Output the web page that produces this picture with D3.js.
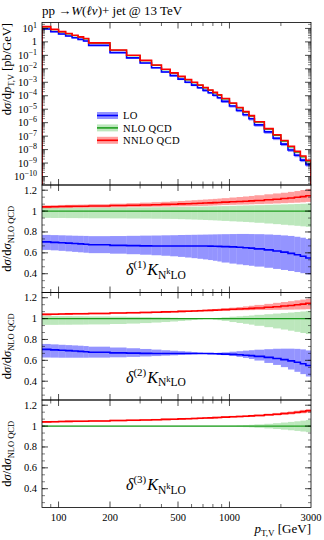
<!DOCTYPE html>
<html>
<head>
<meta charset="utf-8">
<script src="https://cdn.jsdelivr.net/npm/d3@7"></script>
<style>
body { margin: 0; background: #fff; }
text { font-family: "Liberation Serif", "DejaVu Serif", serif; fill: #000; }
</style>
</head>
<body>
<svg id="chart" width="324" height="540"></svg>
<script>
// bin edges in GeV
const edges = [80,90,100,110,120,130,140,150,200,250,300,350,400,450,500,550,600,650,700,750,800,850,900,1000,1100,1200,1300,1400,1600,1800,2000,2200,2400,2600,2800,3000];

// NLO QCD dsigma/dpT [pb/GeV]
const nloXsec = [13.0,8.17,5.51,3.99,2.95,2.24,1.70,0.811,0.239,0.0968,0.0403,0.01795,8.77e-3,4.70e-3,2.58e-3,1.51e-3,9.31e-4,5.87e-4,3.78e-4,2.49e-4,1.64e-4,1.08e-4,5.81e-5,2.65e-5,1.24e-5,6.04e-6,3.02e-6,1.07e-6,3.27e-7,1.13e-7,4.18e-8,1.58e-8,6.55e-9,2.90e-9,1.38e-9];

// ratios to NLO QCD (central)
const loRatio = [0.705,0.700,0.697,0.693,0.689,0.686,0.683,0.677,0.672,0.669,0.667,0.666,0.665,0.665,0.665,0.665,0.665,0.665,0.665,0.664,0.663,0.662,0.660,0.657,0.653,0.649,0.645,0.638,0.628,0.618,0.607,0.595,0.582,0.567,0.550];
const nnloRatio = [1.040,1.042,1.044,1.045,1.046,1.046,1.047,1.049,1.053,1.056,1.059,1.061,1.064,1.066,1.069,1.071,1.073,1.075,1.077,1.079,1.081,1.083,1.086,1.089,1.092,1.095,1.098,1.102,1.108,1.114,1.120,1.126,1.132,1.139,1.147];

// delta(1) bands
const loUp1 = [0.772,0.770,0.768,0.766,0.764,0.763,0.762,0.760,0.761,0.763,0.765,0.766,0.768,0.769,0.771,0.772,0.773,0.774,0.775,0.776,0.777,0.778,0.779,0.780,0.781,0.781,0.780,0.779,0.776,0.772,0.767,0.762,0.754,0.745,0.733];
const loDn1 = [0.628,0.624,0.619,0.614,0.609,0.605,0.601,0.597,0.592,0.587,0.582,0.577,0.572,0.567,0.561,0.555,0.549,0.543,0.537,0.531,0.524,0.517,0.507,0.497,0.489,0.482,0.476,0.468,0.457,0.446,0.436,0.426,0.416,0.405,0.393];
const nloUp1 = [1.030,1.030,1.031,1.031,1.032,1.032,1.032,1.033,1.034,1.035,1.036,1.037,1.038,1.039,1.040,1.041,1.042,1.043,1.044,1.045,1.046,1.047,1.048,1.050,1.052,1.054,1.055,1.057,1.060,1.062,1.064,1.066,1.068,1.070,1.072];
const nloDn1 = [0.935,0.934,0.934,0.933,0.933,0.932,0.932,0.931,0.930,0.929,0.928,0.927,0.926,0.925,0.923,0.921,0.919,0.917,0.915,0.913,0.911,0.909,0.906,0.902,0.899,0.896,0.893,0.888,0.881,0.875,0.869,0.864,0.859,0.854,0.849];
const nnloUp1 = [1.055,1.057,1.059,1.060,1.061,1.062,1.063,1.066,1.071,1.076,1.081,1.085,1.089,1.093,1.097,1.101,1.105,1.108,1.111,1.114,1.117,1.120,1.124,1.130,1.135,1.140,1.145,1.152,1.161,1.169,1.176,1.184,1.192,1.202,1.213];
const nnloDn1 = [1.027,1.028,1.029,1.030,1.031,1.031,1.032,1.034,1.036,1.038,1.040,1.042,1.043,1.044,1.046,1.047,1.048,1.049,1.050,1.052,1.054,1.056,1.058,1.060,1.062,1.063,1.065,1.067,1.070,1.073,1.076,1.079,1.081,1.084,1.088];

// delta(2) bands
const loUp2 = [0.757,0.753,0.749,0.746,0.743,0.740,0.737,0.731,0.723,0.716,0.709,0.703,0.697,0.692,0.688,0.684,0.679,0.674,0.669,0.669,0.671,0.673,0.677,0.683,0.688,0.693,0.697,0.702,0.707,0.711,0.712,0.712,0.710,0.705,0.695];
const loDn2 = [0.627,0.626,0.625,0.625,0.625,0.625,0.625,0.626,0.629,0.633,0.637,0.641,0.645,0.648,0.652,0.655,0.658,0.661,0.662,0.661,0.659,0.656,0.650,0.642,0.633,0.623,0.613,0.598,0.575,0.556,0.535,0.512,0.490,0.468,0.445];
const nloUp2 = [1.025,1.025,1.024,1.024,1.023,1.023,1.022,1.021,1.019,1.017,1.014,1.012,1.010,1.008,1.006,1.004,1.003,1.001,1.000,1.002,1.005,1.007,1.012,1.018,1.022,1.026,1.030,1.036,1.042,1.048,1.053,1.058,1.063,1.068,1.073];
const nloDn2 = [0.940,0.940,0.941,0.941,0.942,0.942,0.943,0.944,0.948,0.952,0.957,0.962,0.967,0.972,0.977,0.982,0.987,0.993,0.998,0.996,0.990,0.985,0.978,0.967,0.958,0.950,0.942,0.931,0.918,0.906,0.895,0.884,0.873,0.862,0.852];
const nnloUp2 = [1.050,1.051,1.053,1.054,1.055,1.055,1.056,1.058,1.062,1.065,1.068,1.070,1.073,1.075,1.078,1.080,1.082,1.084,1.086,1.089,1.092,1.095,1.099,1.105,1.111,1.117,1.123,1.131,1.141,1.151,1.159,1.167,1.175,1.182,1.190];
const nnloDn2 = [1.032,1.034,1.036,1.037,1.038,1.038,1.039,1.041,1.045,1.048,1.051,1.053,1.056,1.058,1.061,1.063,1.065,1.067,1.069,1.071,1.073,1.075,1.077,1.078,1.079,1.080,1.081,1.082,1.083,1.084,1.085,1.086,1.087,1.088,1.090];

// delta(3) bands
const nloUp3 = [1.005,1.005,1.005,1.005,1.005,1.005,1.005,1.005,1.005,1.005,1.005,1.005,1.005,1.005,1.005,1.005,1.005,1.005,1.005,1.005,1.005,1.005,1.005,1.006,1.008,1.010,1.012,1.016,1.022,1.028,1.034,1.040,1.046,1.052,1.058];
const nloDn3 = [0.995,0.995,0.995,0.995,0.995,0.995,0.995,0.995,0.995,0.995,0.995,0.995,0.995,0.995,0.995,0.995,0.995,0.995,0.995,0.995,0.995,0.995,0.995,0.994,0.992,0.990,0.988,0.984,0.978,0.972,0.966,0.960,0.954,0.948,0.942];
const nnloUp3 = [1.048,1.050,1.052,1.053,1.054,1.054,1.055,1.057,1.061,1.064,1.067,1.069,1.072,1.074,1.077,1.079,1.081,1.083,1.085,1.087,1.089,1.091,1.094,1.098,1.101,1.104,1.107,1.112,1.119,1.126,1.133,1.140,1.147,1.155,1.164];
const nnloDn3 = [1.032,1.034,1.036,1.037,1.038,1.038,1.039,1.041,1.045,1.048,1.051,1.053,1.056,1.058,1.061,1.063,1.065,1.067,1.069,1.071,1.073,1.075,1.078,1.080,1.083,1.086,1.089,1.092,1.097,1.102,1.107,1.112,1.117,1.123,1.130];

const xLabelTicks = [100,200,500,1000,3000];
const xMajor = [100,200,500,1000];
const xMinor = [90,300,400,600,700,800,900,2000];
const ratioTicks = [0.4,0.6,0.8,1,1.2];
const legendNames = ["LO","NLO QCD","NNLO QCD"];

const col = {
    lo:   {line:"#0000ff", band:"#0000ff", op:0.42},
    nlo:  {line:"#1f9e1f", band:"#22b022", op:0.30},
    nnlo: {line:"#ff0000", band:"#ff0000", op:0.38}
};

const svg = d3.select("#chart");
const L = 42, R = 311;
const x = d3.scaleLog().domain([80,3000]).range([L,R]);
const nb = nloXsec.length;

const panels = [
    {top:22.5, bot:185},
    {top:185, bot:292.5, k:1},
    {top:292.5, bot:400, k:2},
    {top:400, bot:507.5, k:3}
];

const yTop = d3.scaleLog().domain([Math.pow(10,-10.63), Math.pow(10,1.44)]).range([panels[0].bot, panels[0].top]);

function stepPts(vals, closeTo) {
    const p = [];
    if (closeTo !== undefined) p.push([edges[0], closeTo]);
    vals.forEach(function(v,i){ p.push([edges[i],v]); p.push([edges[i+1],v]); });
    if (closeTo !== undefined) p.push([edges[nb], closeTo]);
    return p;
}

function drawBand(g, y, up, dn, c) {
    g.append("g").selectAll("rect")
        .data(d3.range(nb))
        .join("rect")
        .attr("x", i => x(edges[i]))
        .attr("width", i => x(edges[i+1]) - x(edges[i]))
        .attr("y", i => y(up[i]))
        .attr("height", i => Math.max(0.4, y(dn[i]) - y(up[i])))
        .attr("fill", c.band)
        .attr("fill-opacity", c.op);
}

function drawLine(g, y, vals, c, w, closeTo) {
    g.append("path")
        .attr("d", d3.line().x(d => x(d[0])).y(d => y(d[1]))(stepPts(vals, closeTo)))
        .attr("fill", "none")
        .attr("stroke", c.line)
        .attr("stroke-width", w);
}

// clip paths
const defs = svg.append("defs");
panels.forEach(function(p, i){
    defs.append("clipPath").attr("id","clip"+i)
        .append("rect").attr("x",L).attr("y",p.top).attr("width",R-L).attr("height",p.bot-p.top);
});

// ---- top panel ----
const g0 = svg.append("g").attr("clip-path","url(#clip0)");
const mul = (a,b) => a.map((v,i) => v*b[i]);
const ymin = yTop.domain()[0];
drawBand(g0, yTop, mul(nloXsec,loUp1), mul(nloXsec,loDn1), col.lo);
drawLine(g0, yTop, mul(nloXsec,loRatio), col.lo, 1.6, ymin);
drawBand(g0, yTop, mul(nloXsec,nloUp1), mul(nloXsec,nloDn1), col.nlo);
drawLine(g0, yTop, nloXsec, col.nlo, 1.2, ymin);
drawBand(g0, yTop, mul(nloXsec,nnloUp1), mul(nloXsec,nnloDn1), col.nnlo);
drawLine(g0, yTop, mul(nloXsec,nnloRatio), col.nnlo, 1.6, ymin);

// ---- ratio panels ----
const bands = {
    1: {lo:[loUp1,loDn1], nlo:[nloUp1,nloDn1], nnlo:[nnloUp1,nnloDn1]},
    2: {lo:[loUp2,loDn2], nlo:[nloUp2,nloDn2], nnlo:[nnloUp2,nnloDn2]},
    3: {lo:null, nlo:[nloUp3,nloDn3], nnlo:[nnloUp3,nnloDn3]}
};
const ones = nloXsec.map(() => 1);

panels.slice(1).forEach(function(p, j){
    const i = j + 1;
    p.y = d3.scaleLinear().domain([0.22,1.25]).range([p.bot, p.top]);
    const g = svg.append("g").attr("clip-path","url(#clip"+i+")");
    const b = bands[p.k];
    drawBand(g, p.y, b.nlo[0], b.nlo[1], col.nlo);
    if (b.lo) drawBand(g, p.y, b.lo[0], b.lo[1], col.lo);
    drawBand(g, p.y, b.nnlo[0], b.nnlo[1], col.nnlo);
    drawLine(g, p.y, ones, col.nlo, 1.1);
    if (b.lo) drawLine(g, p.y, loRatio, col.lo, 1.6);
    drawLine(g, p.y, nnloRatio, col.nnlo, 1.6);

    // annotation
    const t = svg.append("text").attr("x",126).attr("y",p.top+90).style("font-size","16px");
    t.append("tspan").style("font-style","italic").text("\u03b4");
    t.append("tspan").style("font-size","11px").attr("dy",-7).text("(" + p.k + ")");
    t.append("tspan").style("font-style","italic").attr("dy",7).attr("dx",1).text("K");
    t.append("tspan").style("font-size","11.5px").attr("dy",3.5).text("N");
    t.append("tspan").style("font-size","8.5px").attr("dy",-4.5).text("k");
    t.append("tspan").style("font-size","11.5px").attr("dy",4.5).text("LO");
});

// ---- axes / frames ----
const ax = svg.append("g").attr("stroke","#000").attr("fill","none");
panels.forEach(function(p, i){
    const y = i === 0 ? yTop : p.y;
    // x ticks, bottom (up) and top (down)
    xMajor.forEach(v => {
        ax.append("line").attr("x1",x(v)).attr("x2",x(v)).attr("y1",p.bot).attr("y2",p.bot-6).attr("stroke-width",0.7);
        ax.append("line").attr("x1",x(v)).attr("x2",x(v)).attr("y1",p.top).attr("y2",p.top+6).attr("stroke-width",0.7);
    });
    xMinor.forEach(v => {
        ax.append("line").attr("x1",x(v)).attr("x2",x(v)).attr("y1",p.bot).attr("y2",p.bot-3.5).attr("stroke-width",0.6);
        ax.append("line").attr("x1",x(v)).attr("x2",x(v)).attr("y1",p.top).attr("y2",p.top+3.5).attr("stroke-width",0.6);
    });
    // y ticks
    let maj, mnr;
    if (i === 0) {
        maj = d3.range(-10, 2).map(k => Math.pow(10,k));
        mnr = [];
        d3.range(-11, 2).forEach(k => d3.range(2,10).forEach(m => {
            const v = m*Math.pow(10,k);
            if (v > yTop.domain()[0] && v < yTop.domain()[1]) mnr.push(v);
        }));
    } else {
        maj = ratioTicks;
        mnr = d3.range(0.2, 1.3, 0.2/3).filter(v => v > 0.22 && v < 1.25);
    }
    maj.forEach(v => {
        ax.append("line").attr("x1",L).attr("x2",L+6).attr("y1",y(v)).attr("y2",y(v)).attr("stroke-width",0.7);
        ax.append("line").attr("x1",R).attr("x2",R-6).attr("y1",y(v)).attr("y2",y(v)).attr("stroke-width",0.7);
    });
    mnr.forEach(v => {
        ax.append("line").attr("x1",L).attr("x2",L+3).attr("y1",y(v)).attr("y2",y(v)).attr("stroke-width",0.5);
        ax.append("line").attr("x1",R).attr("x2",R-3).attr("y1",y(v)).attr("y2",y(v)).attr("stroke-width",0.5);
    });
    ax.append("rect").attr("x",L).attr("y",p.top).attr("width",R-L).attr("height",p.bot-p.top).attr("stroke-width",0.8);

    // y tick labels
    if (i === 0) {
        d3.range(-10, 2).forEach(k => {
            const t = svg.append("text").attr("x",37).attr("y",yTop(Math.pow(10,k))+3.5)
                .attr("text-anchor","end").style("font-size","10.5px");
            if (k === 0) { t.text("1"); return; }
            t.append("tspan").text("10");
            t.append("tspan").attr("dy",-4).style("font-size","8px").text(k < 0 ? "\u2212" + (-k) : k);
        });
    } else {
        ratioTicks.forEach(v => {
            svg.append("text").attr("x",37).attr("y",y(v)+3.5).attr("text-anchor","end")
                .style("font-size","10.5px").text(v === 1 ? "1" : d3.format(".1f")(v));
        });
    }
});

// x tick labels
xLabelTicks.forEach(v => {
    svg.append("text").attr("x",x(v)).attr("y",521).attr("text-anchor","middle")
        .style("font-size","10.5px").text(v);
});

// x title
const xt = svg.append("text").attr("x",311).attr("y",533).attr("text-anchor","end").style("font-size","13px");
xt.append("tspan").style("font-style","italic").text("p");
xt.append("tspan").attr("dy",3).style("font-size","9px").text("T,V");
xt.append("tspan").attr("dy",-3).text(" [GeV]");

// y titles
const yt0 = svg.append("text").attr("transform","translate(11,23) rotate(-90)").attr("text-anchor","end").style("font-size","12.5px");
yt0.append("tspan").text("d");
yt0.append("tspan").style("font-style","italic").text("\u03c3");
yt0.append("tspan").text("/d");
yt0.append("tspan").style("font-style","italic").text("p");
yt0.append("tspan").attr("dy",3).style("font-size","8.5px").text("T,V");
yt0.append("tspan").attr("dy",-3).text(" [pb/GeV]");

panels.slice(1).forEach(p => {
    const t = svg.append("text").attr("transform","translate(11," + ((p.top+p.bot)/2) + ") rotate(-90)")
        .attr("text-anchor","middle").style("font-size","12.5px");
    t.append("tspan").text("d");
    t.append("tspan").style("font-style","italic").text("\u03c3");
    t.append("tspan").text("/d");
    t.append("tspan").style("font-style","italic").text("\u03c3");
    t.append("tspan").attr("dy",3).style("font-size","8.5px").text("NLO QCD");
});

// title
const tt = svg.append("text").attr("x",42).attr("y",15).style("font-size","13px");
tt.append("tspan").text("pp \u2192");
tt.append("tspan").style("font-style","italic").text("W");
tt.append("tspan").text("(");
tt.append("tspan").style("font-style","italic").text("\u2113\u03bd");
tt.append("tspan").text(")+ jet @ 13 TeV");

// legend
const lg = svg.append("g");
[col.lo, col.nlo, col.nnlo].forEach(function(c, i){
    const yy = 115.5 + i*12.4;
    lg.append("rect").attr("x",97).attr("y",yy-3.5).attr("width",21).attr("height",7)
        .attr("fill",c.band).attr("fill-opacity",c.op);
    lg.append("line").attr("x1",97).attr("x2",118).attr("y1",yy).attr("y2",yy)
        .attr("stroke",c.line).attr("stroke-width",1.6);
    lg.append("text").attr("x",123).attr("y",yy+3.8).style("font-size","10.6px").style("letter-spacing","0.3px").text(legendNames[i]);
});
</script>
</body>
</html>
